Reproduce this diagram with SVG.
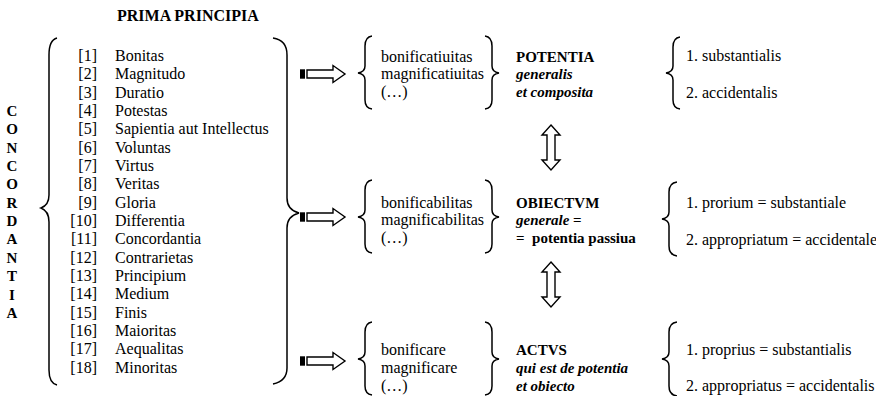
<svg xmlns="http://www.w3.org/2000/svg" width="876" height="396" viewBox="0 0 876 396" font-family="'Liberation Serif', serif" font-size="16">
<defs>
<style>
text{font-family:'Liberation Serif',serif;fill:#000}
.b{font-weight:bold;font-size:15px}
.t{font-weight:bold;font-size:16px}
.c{font-weight:bold;font-size:15px}
.bi{font-weight:bold;font-style:italic;font-size:15px}
.num{text-anchor:end}
.brace{fill:none;stroke:#000;stroke-width:1.5}
.arr{fill:#fff;stroke:#000;stroke-width:1.4;stroke-linejoin:miter}
</style>
</defs>
<rect width="876" height="396" fill="#fff"/>
<text class="t" x="117" y="21" font-family="'Liberation Serif', serif">PRIMA PRINCIPIA</text>
<g id="concordantia" class="c" text-anchor="middle" font-family="'Liberation Serif', serif">
<text x="12" y="116">C</text><text x="12" y="134">O</text><text x="12" y="153">N</text><text x="12" y="171">C</text><text x="12" y="189">O</text><text x="12" y="208">R</text><text x="12" y="226">D</text><text x="12" y="244">A</text><text x="12" y="263">N</text><text x="12" y="281">T</text><text x="12" y="300">I</text><text x="12" y="318">A</text>
</g>
<g id="principia" font-family="'Liberation Serif', serif" font-size="16">
<path class="brace" d="M57,38 Q49,40 49,55 L49,195 Q49,205 41,208 Q49,211 49,222 L49,370 Q49,383 57,385"/>
<path class="brace" d="M273,38 Q287,40 287,55 L287,198 Q287,210 299,213 Q287,216 287,228 L287,368 Q287,381 273,384"/>
<text class="num" x="97" y="61">[1]</text><text x="115" y="61">Bonitas</text>
<text class="num" x="97" y="79">[2]</text><text x="115" y="79">Magnitudo</text>
<text class="num" x="97" y="98">[3]</text><text x="115" y="98">Duratio</text>
<text class="num" x="97" y="116">[4]</text><text x="115" y="116">Potestas</text>
<text class="num" x="97" y="134">[5]</text><text x="115" y="134">Sapientia aut Intellectus</text>
<text class="num" x="97" y="153">[6]</text><text x="115" y="153">Voluntas</text>
<text class="num" x="97" y="171">[7]</text><text x="115" y="171">Virtus</text>
<text class="num" x="97" y="189">[8]</text><text x="115" y="189">Veritas</text>
<text class="num" x="97" y="208">[9]</text><text x="115" y="208">Gloria</text>
<text class="num" x="97" y="226">[10]</text><text x="115" y="226">Differentia</text>
<text class="num" x="97" y="244">[11]</text><text x="115" y="244">Concordantia</text>
<text class="num" x="97" y="263">[12]</text><text x="115" y="263">Contrarietas</text>
<text class="num" x="97" y="281">[13]</text><text x="115" y="281">Principium</text>
<text class="num" x="97" y="299">[14]</text><text x="115" y="299">Medium</text>
<text class="num" x="97" y="318">[15]</text><text x="115" y="318">Finis</text>
<text class="num" x="97" y="336">[16]</text><text x="115" y="336">Maioritas</text>
<text class="num" x="97" y="354">[17]</text><text x="115" y="354">Aequalitas</text>
<text class="num" x="97" y="373">[18]</text><text x="115" y="373">Minoritas</text>
</g>
<g id="connectors">
<g transform="translate(0,74)">
<polygon class="arr" points="307,-4 333,-4 333,-8.5 345,0 333,8.5 333,4 307,4"/>
<rect x="300" y="-4.7" width="5" height="9.4" fill="#000"/>
</g>
<g transform="translate(0,217)">
<polygon class="arr" points="307,-4 333,-4 333,-8.5 345,0 333,8.5 333,4 307,4"/>
<rect x="300" y="-4.7" width="5" height="9.4" fill="#000"/>
</g>
<g transform="translate(0,361)">
<polygon class="arr" points="307,-4 333,-4 333,-8.5 345,0 333,8.5 333,4 307,4"/>
<rect x="300" y="-4.7" width="5" height="9.4" fill="#000"/>
</g>
<polygon class="arr" points="551,125 560,135 555,135 555,160 560,160 551,170 542,160 547,160 547,135 542,135"/>
<polygon class="arr" points="551,262 560,272 555,272 555,297 560,297 551,307 542,297 547,297 547,272 542,272"/>
</g>
<g id="potentia" font-family="'Liberation Serif', serif" font-size="16">
<path class="brace" d="M372,36 Q365,37 365,46 L365,66 Q365,72 358,73 Q365,74 365,80 L365,100 Q365,108 372,109"/>
<text x="381" y="62">bonificatiuitas</text>
<text x="381" y="79">magnificatiuitas</text>
<text x="381" y="97">(…)</text>
<path class="brace" d="M485,36 Q492,37 492,46 L492,66 Q492,72 499,73 Q492,74 492,80 L492,100 Q492,108 485,109"/>
<text class="b" x="516" y="62">POTENTIA</text>
<text class="bi" x="516" y="79">generalis</text>
<text class="bi" x="516" y="97">et composita</text>
<path class="brace" d="M680,37 Q673,38 673,47 L673,66 Q673,72 666,73 Q673,74 673,80 L673,100 Q673,108 680,109"/>
<text x="686" y="61">1. substantialis</text>
<text x="686" y="98">2. accidentalis</text>
</g>
<g id="obiectum" font-family="'Liberation Serif', serif" font-size="16">
<path class="brace" d="M372,180 Q365,181 365,190 L365,210 Q365,216 358,217 Q365,218 365,224 L365,244 Q365,252 372,253"/>
<text x="381" y="208">bonificabilitas</text>
<text x="381" y="225">magnificabilitas</text>
<text x="381" y="243">(…)</text>
<path class="brace" d="M485,180 Q492,181 492,190 L492,210 Q492,216 499,217 Q492,218 492,224 L492,244 Q492,252 485,253"/>
<text class="b" x="516" y="208">OBIECTVM</text>
<text x="516" y="225" font-size="15"><tspan class="bi">generale</tspan><tspan class="b"> =</tspan></text>
<text class="b" x="516" y="243" xml:space="preserve">=  potentia passiua</text>
<path class="brace" d="M677,182 Q669,183 669,192 L669,212 Q669,218 662,219 Q669,220 669,226 L669,246 Q669,255 677,256"/>
<text x="686" y="208">1. prorium = substantiale</text>
<text x="686" y="245">2. appropriatum = accidentale</text>
</g>
<g id="actus" font-family="'Liberation Serif', serif" font-size="16">
<path class="brace" d="M372,322 Q365,323 365,332 L365,352 Q365,358 358,359 Q365,360 365,366 L365,386 Q365,394 372,395"/>
<text x="381" y="355">bonificare</text>
<text x="381" y="373">magnificare</text>
<text x="381" y="391">(…)</text>
<path class="brace" d="M485,322 Q492,323 492,332 L492,352 Q492,358 499,359 Q492,360 492,366 L492,386 Q492,394 485,395"/>
<text class="b" x="516" y="355">ACTVS</text>
<text class="bi" x="516" y="373">qui est de potentia</text>
<text class="bi" x="516" y="391">et obiecto</text>
<path class="brace" d="M677,322 Q669,323 669,332 L669,352 Q669,358 662,359 Q669,360 669,366 L669,386 Q669,395 677,396"/>
<text x="686" y="355">1. proprius = substantialis</text>
<text x="686" y="391">2. appropriatus = accidentalis</text>
</g>
</svg>
